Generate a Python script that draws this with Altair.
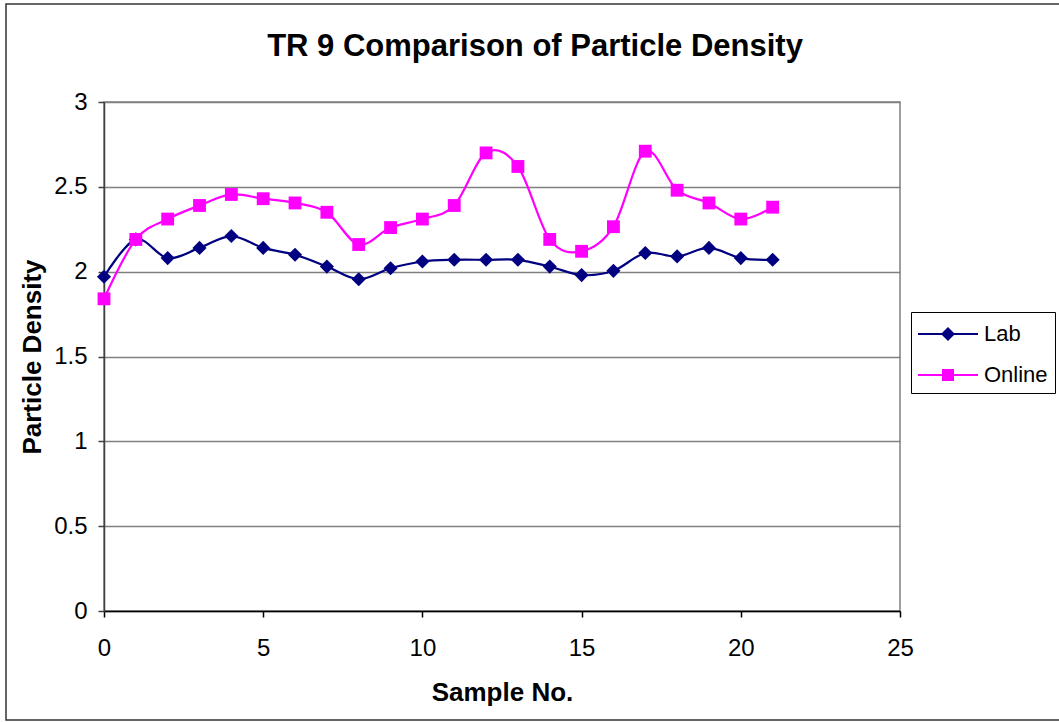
import altair as alt
import pandas as pd

# ---- data ----
sample = list(range(22))
lab = [1.97, 2.19, 2.08, 2.14, 2.21, 2.14, 2.10, 2.03, 1.955, 2.02, 2.06,
       2.07, 2.07, 2.07, 2.03, 1.98, 2.005, 2.11, 2.09, 2.14, 2.08, 2.07]
online = [1.84, 2.19, 2.31, 2.39, 2.455, 2.43, 2.405, 2.35, 2.16, 2.26, 2.31,
          2.39, 2.70, 2.62, 2.19, 2.12, 2.265, 2.71, 2.48, 2.405, 2.31, 2.38]
series_names = ["Lab", "Online"]
series_colors = ["#000080", "#FF00FF"]
x_ticks = [0, 5, 10, 15, 20, 25]
y_ticks = [0, 0.5, 1, 1.5, 2, 2.5, 3]

df = pd.DataFrame({
    "Sample": sample * 2,
    "Density": lab + online,
    "Series": ["Lab"] * len(lab) + ["Online"] * len(online),
})

FONT = "Liberation Sans"

# legend symbols: a line with the marker in its middle
lab_sym = ("M-1,-0.067L3,-0.067L3,0.067L-1,0.067Z "
           "M1,-0.467L1.467,0L1,0.467L0.533,0Z")
online_sym = ("M-1,-0.067L3,-0.067L3,0.067L-1,0.067Z "
              "M0.6,-0.4L1.4,-0.4L1.4,0.4L0.6,0.4Z")

x_enc = alt.X("Sample:Q",
              scale=alt.Scale(domain=[0, 25], nice=False, zero=False),
              axis=alt.Axis(values=x_ticks, title="Sample No.", grid=False,
                            tickSize=6, labelPadding=19, titlePadding=19,
                            domainColor="#000000", tickColor="#000000",
                            domainWidth=1.5, tickWidth=1.5, labelFlush=False))
y_enc = alt.Y("Density:Q",
              scale=alt.Scale(domain=[0, 3], nice=False),
              axis=alt.Axis(values=y_ticks, format="~g", title="Particle Density",
                            grid=True, gridColor="#808080", gridWidth=1.5,
                            tickSize=6, labelPadding=11, titlePadding=8,
                            domainColor="#404040", tickColor="#404040",
                            domainWidth=1.5, tickWidth=1.5))
color_scale = alt.Scale(domain=series_names, range=series_colors)
color_plain = alt.Color("Series:N", scale=color_scale)

base = alt.Chart(df)

border = alt.Chart(pd.DataFrame({"k": [0]})).mark_rect(
    fill="transparent", stroke="#333333", strokeWidth=1.5
).encode(x=alt.value(-98), x2=alt.value(960), y=alt.value(-98), y2=alt.value(618))


def series_layers(name, shape, size):
    sub = base.transform_filter(alt.datum.Series == name)
    line = sub.mark_line(interpolate="cardinal", tension=0, strokeWidth=2.2).encode(
        x=x_enc, y=y_enc, color=color_plain)
    pts = sub.mark_point(shape=shape, filled=True, size=size, opacity=1).encode(
        x=x_enc, y=y_enc, color=color_plain)
    return [line, pts]


legend_def = alt.Legend(
    title=None, orient="none", legendX=807, legendY=210,
    labelFont=FONT, labelFontSize=22, labelColor="black",
    symbolSize=900, symbolStrokeWidth=0, symbolOpacity=1,
    padding=7, strokeColor="black", fillColor="white",
    rowPadding=15, labelOffset=36, labelLimit=300,
)
legend_layer = base.mark_point(filled=True, opacity=0).encode(
    x=x_enc, y=y_enc,
    color=alt.Color("Series:N", scale=color_scale, legend=legend_def),
    shape=alt.Shape("Series:N",
                    scale=alt.Scale(domain=series_names, range=[lab_sym, online_sym]),
                    legend=legend_def),
)

layers = [legend_layer, border] + series_layers("Lab", "diamond", 200) + series_layers("Online", "square", 165)

chart = alt.layer(*layers).properties(
    width=796, height=509,
    autosize=alt.AutoSizeParams(type="none"),
    padding={"left": 104, "top": 102, "right": 159, "bottom": 111},
    title=alt.TitleParams("TR 9 Comparison of Particle Density", font=FONT,
                          fontSize=31, fontWeight="bold", color="black",
                          anchor="middle", dx=33, offset=-60),
    background="white",
).configure_view(
    stroke="#808080", strokeWidth=1.5
).configure_axis(
    labelFont=FONT, titleFont=FONT, labelFontSize=24, titleFontSize=26,
    titleFontWeight="bold", labelColor="black", titleColor="black",
)

chart.save("out.html", embed_options={"renderer": "svg", "actions": False})
